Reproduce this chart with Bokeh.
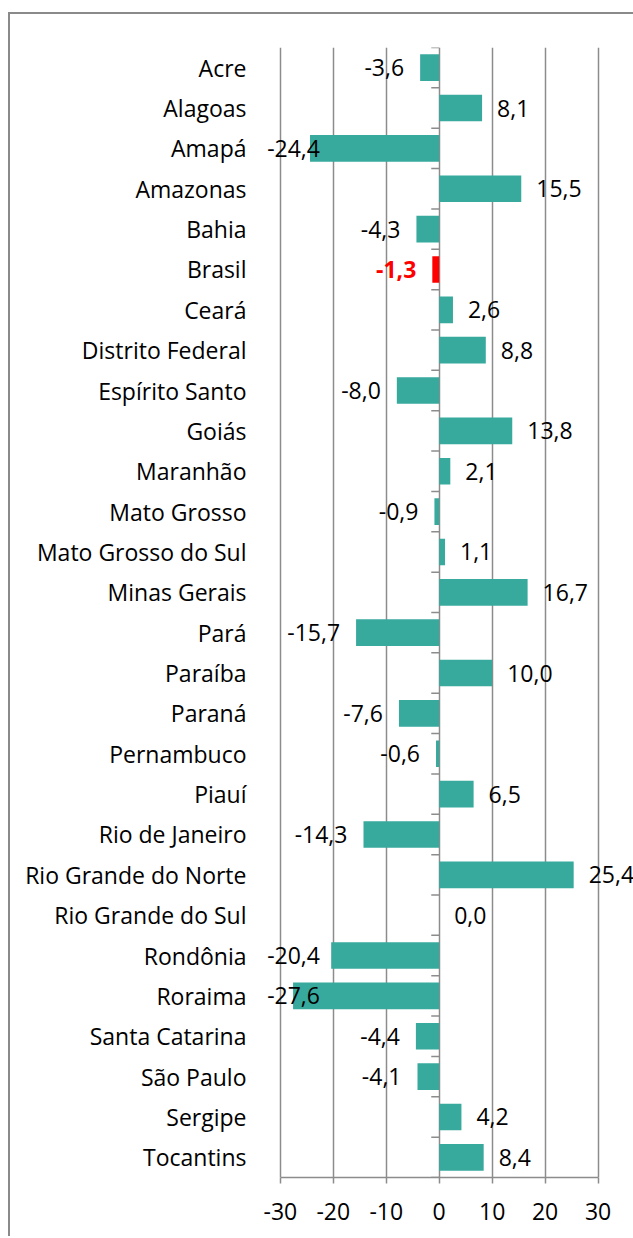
from bokeh.plotting import figure
from bokeh.models import (Range1d, FixedTicker, CustomJSTickFormatter, ColumnDataSource,
                          LabelSet)
from bokeh.core.properties import value
from bokeh.embed import file_html
from bokeh.resources import INLINE

states = ["Acre", "Alagoas", "Amapá", "Amazonas", "Bahia", "Brasil", "Ceará",
          "Distrito Federal", "Espírito Santo", "Goiás", "Maranhão", "Mato Grosso",
          "Mato Grosso do Sul", "Minas Gerais", "Pará", "Paraíba", "Paraná",
          "Pernambuco", "Piauí", "Rio de Janeiro", "Rio Grande do Norte",
          "Rio Grande do Sul", "Rondônia", "Roraima", "Santa Catarina",
          "São Paulo", "Sergipe", "Tocantins"]
values = [-3.6, 8.1, -24.4, 15.5, -4.3, -1.3, 2.6, 8.8, -8.0, 13.8, 2.1, -0.9, 1.1,
          16.7, -15.7, 10.0, -7.6, -0.6, 6.5, -14.3, 25.4, 0.0, -20.4, -27.6, -4.4,
          -4.1, 4.2, 8.4]
highlight = "Brasil"
x_ticks = [-30, -20, -10, 0, 10, 20, 30]

TEAL = "#37a99d"
RED = "#ff0000"
GRAY = "#8c8c8c"
FONT = "Open Sans"
FS = "23px"

n = len(states)
ys = [i + 0.5 for i in range(n)]
labels = [f"{v:.1f}".replace(".", ",") for v in values]
colors = [RED if s == highlight else TEAL for s in states]

p = figure(output_backend="svg", toolbar_location=None,
           frame_width=375, frame_height=1130,
           min_border_left=258, min_border_right=0,
           min_border_top=47, min_border_bottom=59,
           x_range=Range1d(-34.13, 36.7), y_range=Range1d(n, 0))
p.border_fill_color = None
p.background_fill_color = None
p.outline_line_color = None
p.styles = {
    "background": ("linear-gradient(#8a8a8a,#8a8a8a) 8px 12px / 100% 2px no-repeat, "
                   "linear-gradient(#8a8a8a,#8a8a8a) 8px 12px / 2px 100% no-repeat, white"),
}

# grid
p.ygrid.visible = False
p.xgrid.ticker = FixedTicker(ticks=x_ticks)
p.xgrid.grid_line_color = GRAY
p.xgrid.grid_line_width = 1.5

# bars
p.hbar(y=ys, left=0, right=values, height=0.66, fill_color=colors, line_color=None)

# category tick marks on the zero axis
bounds = list(range(n + 1))
p.segment(x0=[-1.5] * len(bounds), x1=[0] * len(bounds), y0=bounds, y1=bounds,
          line_color=GRAY, line_width=1.5)

# x axis
xa = p.xaxis[0]
xa.ticker = FixedTicker(ticks=x_ticks)
xa.bounds = (x_ticks[0], x_ticks[-1])
xa.formatter = CustomJSTickFormatter(code="return String(tick);")
xa.axis_line_color = GRAY
xa.axis_line_width = 1.5
xa.major_tick_line_color = GRAY
xa.major_tick_line_width = 1.5
xa.major_tick_out = 6
xa.major_tick_in = 0
xa.minor_tick_line_color = None
xa.major_label_text_font = FONT
xa.major_label_text_font_size = FS
xa.major_label_text_color = "black"
xa.major_label_standoff = 19

# y axis (category names)
ya = p.yaxis[0]
ya.ticker = FixedTicker(ticks=ys)
ya.formatter = CustomJSTickFormatter(args=dict(names=states),
                                     code="return names[Math.floor(tick)];")
ya.axis_line_color = None
ya.major_tick_line_color = None
ya.minor_tick_line_color = None
ya.major_label_standoff = 6
ya.major_label_text_font = FONT
ya.major_label_text_font_size = FS
ya.major_label_text_color = "black"

# value labels (outside end; pushed inside the chart area near the left edge)
pos = dict(x=[], y=[], t=[])
neg = dict(x=[], y=[], t=[])
hil = dict(x=[], y=[], t=[])
for s, v, y, t in zip(states, values, ys, labels):
    d = hil if s == highlight else (pos if v >= 0 else neg)
    d["x"].append(v if v >= 0 else max(v, -19.5)); d["y"].append(y); d["t"].append(t)

common = dict(x="x", y="y", text="t", text_font=value(FONT), text_font_size=FS,
              text_baseline="middle")
p.add_layout(LabelSet(source=ColumnDataSource(pos), x_offset=15, text_align="left",
                      text_color="black", **common))
p.add_layout(LabelSet(source=ColumnDataSource(neg), x_offset=-16, text_align="right",
                      text_color="black", **common))
p.add_layout(LabelSet(source=ColumnDataSource(hil), x_offset=-16, text_align="right",
                      text_color=RED, text_font_style="bold", **common))

open("out.html", "w").write(file_html(p, INLINE))
